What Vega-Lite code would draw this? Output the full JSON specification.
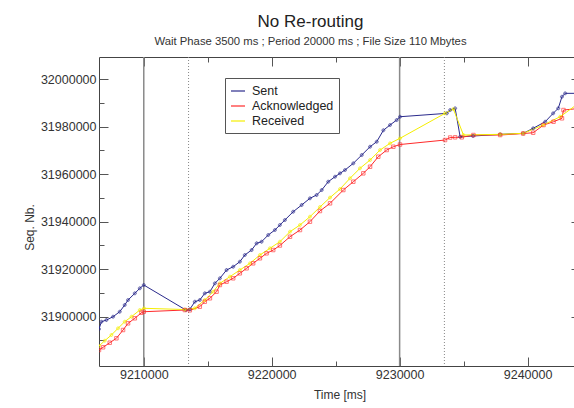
{
  "$schema": "https://vega.github.io/schema/vega-lite/v6.json",
  "width": 481,
  "height": 309,
  "autosize": "none",
  "padding": {"left": 99, "top": 57, "right": 0, "bottom": 42},
  "background": "white",
  "config": {
    "view": {"stroke": "#444", "strokeWidth": 1},
    "font": "Liberation Sans"
  },
  "title": {
    "text": "No Re-routing",
    "subtitle": "Wait Phase 3500 ms ; Period 20000 ms ; File Size 110 Mbytes",
    "fontSize": 17,
    "fontWeight": "normal",
    "subtitleFontSize": 11.3,
    "color": "#222",
    "subtitleColor": "#333",
    "anchor": "middle",
    "dx": -29,
    "offset": 8,
    "subtitlePadding": 5,
    "font": "Liberation Sans",
    "subtitleFont": "Liberation Sans"
  },
  "datasets": {
    "solid": [{"t": 9210000}, {"t": 9230000}],
    "dotted": [{"t": 9213500}, {"t": 9233500}],
    "main": [
      {"s": "Sent", "t": 9206500, "v": 31894800},
      {"s": "Sent", "t": 9206690, "v": 31897900},
      {"s": "Sent", "t": 9207080, "v": 31898610},
      {"s": "Sent", "t": 9207600, "v": 31900000},
      {"s": "Sent", "t": 9208120, "v": 31902100},
      {"s": "Sent", "t": 9208510, "v": 31904930},
      {"s": "Sent", "t": 9208770, "v": 31907030},
      {"s": "Sent", "t": 9209300, "v": 31909850},
      {"s": "Sent", "t": 9209690, "v": 31911960},
      {"s": "Sent", "t": 9210000, "v": 31913350},
      {"s": "Sent", "t": 9213290, "v": 31902820},
      {"s": "Sent", "t": 9213600, "v": 31903120},
      {"s": "Sent", "t": 9213990, "v": 31906320},
      {"s": "Sent", "t": 9214380, "v": 31907030},
      {"s": "Sent", "t": 9214770, "v": 31909850},
      {"s": "Sent", "t": 9215170, "v": 31910530},
      {"s": "Sent", "t": 9215560, "v": 31914060},
      {"s": "Sent", "t": 9215950, "v": 31916170},
      {"s": "Sent", "t": 9216470, "v": 31919660},
      {"s": "Sent", "t": 9216990, "v": 31921050},
      {"s": "Sent", "t": 9217510, "v": 31923160},
      {"s": "Sent", "t": 9217900, "v": 31925980},
      {"s": "Sent", "t": 9218430, "v": 31928080},
      {"s": "Sent", "t": 9218820, "v": 31930900},
      {"s": "Sent", "t": 9219210, "v": 31931580},
      {"s": "Sent", "t": 9219730, "v": 31934400},
      {"s": "Sent", "t": 9220250, "v": 31936500},
      {"s": "Sent", "t": 9220640, "v": 31938610},
      {"s": "Sent", "t": 9221030, "v": 31940710},
      {"s": "Sent", "t": 9221680, "v": 31944210},
      {"s": "Sent", "t": 9222340, "v": 31947030},
      {"s": "Sent", "t": 9222990, "v": 31949850},
      {"s": "Sent", "t": 9223510, "v": 31951240},
      {"s": "Sent", "t": 9223910, "v": 31953340},
      {"s": "Sent", "t": 9224420, "v": 31956840},
      {"s": "Sent", "t": 9224950, "v": 31958940},
      {"s": "Sent", "t": 9225340, "v": 31960370},
      {"s": "Sent", "t": 9225730, "v": 31961760},
      {"s": "Sent", "t": 9226380, "v": 31964580},
      {"s": "Sent", "t": 9227040, "v": 31968080},
      {"s": "Sent", "t": 9227690, "v": 31971570},
      {"s": "Sent", "t": 9228210, "v": 31973680},
      {"s": "Sent", "t": 9228730, "v": 31978500},
      {"s": "Sent", "t": 9229250, "v": 31980710},
      {"s": "Sent", "t": 9229770, "v": 31982810},
      {"s": "Sent", "t": 9230030, "v": 31984200},
      {"s": "Sent", "t": 9233690, "v": 31985630},
      {"s": "Sent", "t": 9233950, "v": 31987020},
      {"s": "Sent", "t": 9234340, "v": 31987740},
      {"s": "Sent", "t": 9234730, "v": 31975780},
      {"s": "Sent", "t": 9235740, "v": 31976080},
      {"s": "Sent", "t": 9237860, "v": 31976790},
      {"s": "Sent", "t": 9239660, "v": 31977210},
      {"s": "Sent", "t": 9240440, "v": 31979320},
      {"s": "Sent", "t": 9241380, "v": 31982100},
      {"s": "Sent", "t": 9242000, "v": 31985630},
      {"s": "Sent", "t": 9242400, "v": 31987740},
      {"s": "Sent", "t": 9242690, "v": 31992620},
      {"s": "Sent", "t": 9242940, "v": 31994050},
      {"s": "Sent", "t": 9244100, "v": 31994050},
      {"s": "Acknowledged", "t": 9206500, "v": 31885980},
      {"s": "Acknowledged", "t": 9206820, "v": 31887120},
      {"s": "Acknowledged", "t": 9207340, "v": 31889050},
      {"s": "Acknowledged", "t": 9207860, "v": 31890910},
      {"s": "Acknowledged", "t": 9208380, "v": 31894400},
      {"s": "Acknowledged", "t": 9208770, "v": 31897220},
      {"s": "Acknowledged", "t": 9209300, "v": 31899330},
      {"s": "Acknowledged", "t": 9209820, "v": 31901680},
      {"s": "Acknowledged", "t": 9210000, "v": 31902100},
      {"s": "Acknowledged", "t": 9213210, "v": 31902820},
      {"s": "Acknowledged", "t": 9213600, "v": 31902690},
      {"s": "Acknowledged", "t": 9214380, "v": 31904210},
      {"s": "Acknowledged", "t": 9214770, "v": 31906320},
      {"s": "Acknowledged", "t": 9215170, "v": 31907750},
      {"s": "Acknowledged", "t": 9215690, "v": 31910530},
      {"s": "Acknowledged", "t": 9215950, "v": 31913350},
      {"s": "Acknowledged", "t": 9216470, "v": 31914740},
      {"s": "Acknowledged", "t": 9216990, "v": 31916170},
      {"s": "Acknowledged", "t": 9217510, "v": 31918270},
      {"s": "Acknowledged", "t": 9218040, "v": 31920380},
      {"s": "Acknowledged", "t": 9218550, "v": 31922480},
      {"s": "Acknowledged", "t": 9219080, "v": 31924590},
      {"s": "Acknowledged", "t": 9219600, "v": 31926690},
      {"s": "Acknowledged", "t": 9220120, "v": 31928080},
      {"s": "Acknowledged", "t": 9220640, "v": 31929980},
      {"s": "Acknowledged", "t": 9221430, "v": 31933680},
      {"s": "Acknowledged", "t": 9222210, "v": 31936500},
      {"s": "Acknowledged", "t": 9222990, "v": 31940000},
      {"s": "Acknowledged", "t": 9223770, "v": 31944500},
      {"s": "Acknowledged", "t": 9224560, "v": 31947740},
      {"s": "Acknowledged", "t": 9225600, "v": 31953340},
      {"s": "Acknowledged", "t": 9226380, "v": 31956840},
      {"s": "Acknowledged", "t": 9227160, "v": 31960370},
      {"s": "Acknowledged", "t": 9227690, "v": 31963150},
      {"s": "Acknowledged", "t": 9228330, "v": 31967360},
      {"s": "Acknowledged", "t": 9228990, "v": 31970180},
      {"s": "Acknowledged", "t": 9229510, "v": 31971570},
      {"s": "Acknowledged", "t": 9230030, "v": 31972500},
      {"s": "Acknowledged", "t": 9233550, "v": 31974390},
      {"s": "Acknowledged", "t": 9233950, "v": 31975440},
      {"s": "Acknowledged", "t": 9234340, "v": 31975530},
      {"s": "Acknowledged", "t": 9234860, "v": 31975530},
      {"s": "Acknowledged", "t": 9235770, "v": 31976500},
      {"s": "Acknowledged", "t": 9237860, "v": 31976500},
      {"s": "Acknowledged", "t": 9239660, "v": 31977130},
      {"s": "Acknowledged", "t": 9240440, "v": 31977460},
      {"s": "Acknowledged", "t": 9241250, "v": 31980710},
      {"s": "Acknowledged", "t": 9242030, "v": 31982100},
      {"s": "Acknowledged", "t": 9242690, "v": 31983530},
      {"s": "Acknowledged", "t": 9242810, "v": 31987020},
      {"s": "Acknowledged", "t": 9244100, "v": 31987740},
      {"s": "Received", "t": 9206500, "v": 31887670},
      {"s": "Received", "t": 9206950, "v": 31889900},
      {"s": "Received", "t": 9207470, "v": 31892300},
      {"s": "Received", "t": 9207990, "v": 31895120},
      {"s": "Received", "t": 9208510, "v": 31897900},
      {"s": "Received", "t": 9209040, "v": 31900000},
      {"s": "Received", "t": 9209690, "v": 31902820},
      {"s": "Received", "t": 9210020, "v": 31903540},
      {"s": "Received", "t": 9213210, "v": 31903030},
      {"s": "Received", "t": 9213990, "v": 31903540},
      {"s": "Received", "t": 9214770, "v": 31907030},
      {"s": "Received", "t": 9215420, "v": 31910530},
      {"s": "Received", "t": 9215950, "v": 31914060},
      {"s": "Received", "t": 9216730, "v": 31916840},
      {"s": "Received", "t": 9217510, "v": 31919660},
      {"s": "Received", "t": 9218300, "v": 31922480},
      {"s": "Received", "t": 9219080, "v": 31925980},
      {"s": "Received", "t": 9219860, "v": 31928800},
      {"s": "Received", "t": 9220640, "v": 31931580},
      {"s": "Received", "t": 9221430, "v": 31935790},
      {"s": "Received", "t": 9222210, "v": 31938610},
      {"s": "Received", "t": 9222990, "v": 31942100},
      {"s": "Received", "t": 9223770, "v": 31946180},
      {"s": "Received", "t": 9224560, "v": 31950180},
      {"s": "Received", "t": 9225340, "v": 31953760},
      {"s": "Received", "t": 9226120, "v": 31958270},
      {"s": "Received", "t": 9226900, "v": 31962480},
      {"s": "Received", "t": 9227690, "v": 31965970},
      {"s": "Received", "t": 9228470, "v": 31970180},
      {"s": "Received", "t": 9229250, "v": 31973000},
      {"s": "Received", "t": 9230030, "v": 31975110},
      {"s": "Received", "t": 9233550, "v": 31985630},
      {"s": "Received", "t": 9234200, "v": 31987440},
      {"s": "Received", "t": 9234990, "v": 31976500},
      {"s": "Received", "t": 9237860, "v": 31976790},
      {"s": "Received", "t": 9239660, "v": 31977210},
      {"s": "Received", "t": 9241220, "v": 31980710},
      {"s": "Received", "t": 9242550, "v": 31984200},
      {"s": "Received", "t": 9244100, "v": 31990300}
    ]
  },
  "layer": [
    {
      "data": {"name": "solid"},
      "mark": {"type": "rule", "color": "#8a8a8a", "strokeWidth": 1.5},
      "encoding": {
        "x": {"field": "t", "type": "quantitative", "scale": {"domain": [9206500, 9244100], "nice": false, "zero": false}, "axis": null}
      }
    },
    {
      "data": {"name": "dotted"},
      "mark": {"type": "rule", "color": "#888", "strokeWidth": 1, "strokeDash": [1, 2]},
      "encoding": {
        "x": {"field": "t", "type": "quantitative", "scale": {"domain": [9206500, 9244100], "nice": false, "zero": false}, "axis": null}
      }
    },
    {
      "data": {"name": "main"},
      "mark": {"type": "line", "strokeWidth": 1, "clip": true},
      "encoding": {
        "x": {
          "field": "t", "type": "quantitative",
          "scale": {"domain": [9206500, 9244100], "nice": false, "zero": false},
          "axis": {
            "orient": "bottom",
            "values": [9210000, 9215000, 9220000, 9225000, 9230000, 9235000, 9240000],
            "format": "d",
            "labelExpr": "datum.value % 10000 === 0 ? datum.label : ''",
            "tickSize": {"condition": {"test": "datum.value % 10000 === 0", "value": -9}, "value": -5},
            "tickColor": "#555",
            "grid": false,
            "domain": false,
            "labelPadding": 11,
            "labelFontSize": 12.5,
            "labelColor": "#333",
            "labelFlush": false,
            "labelOverlap": false,
            "title": "Time [ms]",
            "titleFontSize": 12,
            "titleFontWeight": "normal",
            "titleColor": "#333",
            "titlePadding": 5
          }
        },
        "y": {
          "field": "v", "type": "quantitative",
          "scale": {"domain": [31879250, 32009350], "nice": false, "zero": false},
          "axis": {
            "orient": "left",
            "values": [31890000, 31900000, 31910000, 31920000, 31930000, 31940000, 31950000, 31960000, 31970000, 31980000, 31990000, 32000000],
            "format": "d",
            "labelExpr": "datum.value % 20000 === 0 ? datum.label : ''",
            "tickSize": {"condition": {"test": "datum.value % 20000 === 0", "value": -9}, "value": -5},
            "tickColor": "#555",
            "grid": false,
            "domain": false,
            "labelPadding": 12,
            "labelFontSize": 12.5,
            "labelColor": "#333",
            "labelFlush": false,
            "labelOverlap": false,
            "title": "Seq. Nb.",
            "titleFontSize": 12,
            "titleFontWeight": "normal",
            "titleColor": "#333",
            "titlePadding": 4,
            "titleY": 170
          }
        },
        "color": {
          "field": "s", "type": "nominal",
          "scale": {"domain": ["Sent", "Acknowledged", "Received"], "range": ["#2a2a8c", "#ff2a2a", "#f5ee00"]},
          "legend": {
            "orient": "none",
            "legendX": 126,
            "legendY": 21,
            "title": null,
            "symbolType": "stroke",
            "symbolSize": 196,
            "symbolStrokeWidth": 1.2,
            "strokeColor": "#555",
            "fillColor": "white",
            "padding": 5,
            "labelFontSize": 12.5,
            "labelColor": "#222",
            "labelOffset": 6,
            "rowPadding": -1
          }
        },
        "detail": {"field": "s"}
      }
    },
    {
      "data": {"name": "main"},
      "transform": [{"filter": "datum.s !== 'Acknowledged'"}],
      "mark": {"type": "point", "shape": "cross", "filled": false, "size": 9, "strokeWidth": 0.9, "clip": true},
      "encoding": {
        "x": {
          "field": "t", "type": "quantitative",
          "scale": {"domain": [9206500, 9244100], "nice": false, "zero": false},
          "axis": {
            "orient": "top",
            "values": [9210000, 9215000, 9220000, 9225000, 9230000, 9235000, 9240000],
            "labels": false,
            "tickSize": {"condition": {"test": "datum.value % 10000 === 0", "value": -9}, "value": -5},
            "tickColor": "#555",
            "grid": false,
            "domain": false,
            "title": null
          }
        },
        "y": {
          "field": "v", "type": "quantitative",
          "scale": {"domain": [31879250, 32009350], "nice": false, "zero": false},
          "axis": {
            "orient": "right",
            "values": [31890000, 31900000, 31910000, 31920000, 31930000, 31940000, 31950000, 31960000, 31970000, 31980000, 31990000, 32000000],
            "labels": false,
            "tickSize": {"condition": {"test": "datum.value % 20000 === 0", "value": -9}, "value": -5},
            "tickColor": "#555",
            "grid": false,
            "domain": false,
            "title": null
          }
        },
        "color": {
          "field": "s", "type": "nominal",
          "scale": {"domain": ["Sent", "Acknowledged", "Received"], "range": ["#2a2a8c", "#ff2a2a", "#f5ee00"]},
          "legend": null
        }
      }
    },
    {
      "data": {"name": "main"},
      "transform": [{"filter": "datum.s === 'Acknowledged'"}],
      "mark": {"type": "point", "shape": "square", "filled": false, "size": 12, "strokeWidth": 0.9, "clip": true},
      "encoding": {
        "x": {"field": "t", "type": "quantitative", "scale": {"domain": [9206500, 9244100], "nice": false, "zero": false}, "axis": null},
        "y": {"field": "v", "type": "quantitative", "scale": {"domain": [31879250, 32009350], "nice": false, "zero": false}, "axis": null},
        "color": {
          "field": "s", "type": "nominal",
          "scale": {"domain": ["Sent", "Acknowledged", "Received"], "range": ["#2a2a8c", "#ff2a2a", "#f5ee00"]},
          "legend": null
        }
      }
    }
  ],
  "resolve": {"axis": {"x": "independent", "y": "independent"}}
}
